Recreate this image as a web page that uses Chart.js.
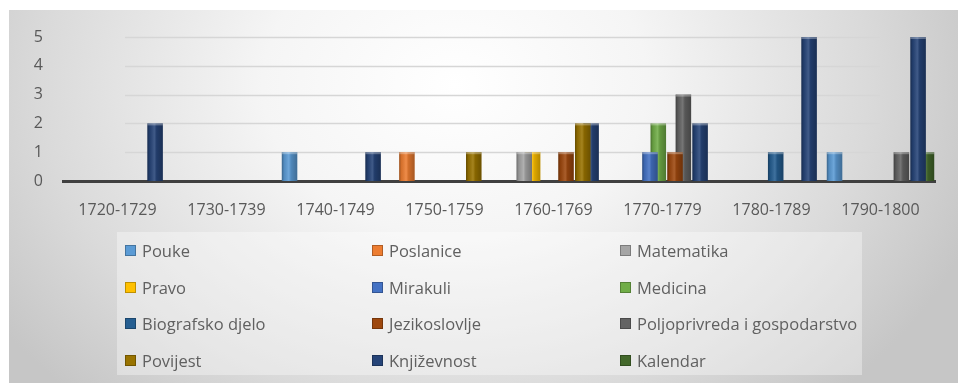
<!DOCTYPE html>
<html>
<head>
<meta charset="utf-8">
<script src="https://cdn.jsdelivr.net/npm/chart.js@4/dist/chart.umd.min.js"></script>
<style>
  body { margin: 0; background: #fff; width: 958px; height: 383px; overflow: hidden; position: relative; font-family: "Open Sans", sans-serif; }
  #bg { position: absolute; left: 9px; top: 10px; width: 949px; height: 373px;
        background: radial-gradient(ellipse 58% 115% at 47% 20%, #ffffff 0%, #f5f5f5 35%, #dadada 75%, #c6c6c6 100%); }
  #chart { position: absolute; left: 0; top: 0; }
  #legend { position: absolute; left: 117px; top: 232px; width: 745px; height: 143px; box-sizing: border-box;
            padding-left: 8px; background: rgba(255,255,255,0.35);
            display: grid; grid-template-columns: 247px 248px 1fr; grid-template-rows: repeat(4, 36.7px); }
  #legend div { display: flex; align-items: center; color: #606060; font-size: 16.5px; white-space: nowrap; }
  #legend span.box { display: inline-block; width: 9px; height: 9px; margin-right: 6px; border: 1px solid rgba(0,0,0,0.25); }
</style>
</head>
<body>
<div id="bg"></div>
<canvas id="chart" width="958" height="383"></canvas>
<div id="legend"></div>
<script>
// categories (decades)
let categories = ['1720-1729', '1730-1739', '1740-1749', '1750-1759', '1760-1769', '1770-1779', '1780-1789', '1790-1800'];

// one array per genre, number of works per decade
let pouke         = [0, 0, 1, 0, 0, 0, 0, 1];
let poslanice     = [0, 0, 0, 1, 0, 0, 0, 0];
let matematika    = [0, 0, 0, 0, 1, 0, 0, 0];
let pravo         = [0, 0, 0, 0, 1, 0, 0, 0];
let mirakuli      = [0, 0, 0, 0, 0, 1, 0, 0];
let medicina      = [0, 0, 0, 0, 0, 2, 0, 0];
let biografsko    = [0, 0, 0, 0, 0, 0, 1, 0];
let jezikoslovlje = [0, 0, 0, 0, 1, 1, 0, 0];
let poljoprivreda = [0, 0, 0, 0, 0, 3, 0, 1];
let povijest      = [0, 0, 0, 1, 2, 0, 0, 0];
let knjizevnost   = [2, 0, 1, 0, 2, 2, 5, 5];
let kalendar      = [0, 0, 0, 0, 0, 0, 0, 1];

let seriesNames = ['Pouke', 'Poslanice', 'Matematika', 'Pravo', 'Mirakuli', 'Medicina',
                   'Biografsko djelo', 'Jezikoslovlje', 'Poljoprivreda i gospodarstvo', 'Povijest', 'Književnost', 'Kalendar'];
let seriesValues = [pouke, poslanice, matematika, pravo, mirakuli, medicina,
                    biografsko, jezikoslovlje, poljoprivreda, povijest, knjizevnost, kalendar];
let seriesColors = ['#5B9BD5', '#ED7D31', '#A5A5A5', '#FFC000', '#4472C4', '#70AD47',
                    '#255E91', '#9E480E', '#636363', '#997300', '#264478', '#43682B'];

let yTicks = [0, 1, 2, 3, 4, 5];

let textColor = '#595959';

// back-wall gridlines, a bit inset like the 3D original
const wallGrid = {
    id: 'wallGrid',
    beforeDatasetsDraw(chart) {
        const ctx = chart.ctx;
        const area = chart.chartArea;
        const y = chart.scales.y;
        ctx.save();
        ctx.strokeStyle = '#d6d6d6';
        ctx.lineWidth = 1.5;
        yTicks.forEach(function(v) {
            if (v === 0) return;
            let py = Math.round(y.getPixelForValue(v)) + 0.5;
            ctx.beginPath();
            ctx.moveTo(area.left + 62, py);
            ctx.lineTo(area.right - 55, py);
            ctx.stroke();
        });
        ctx.restore();
    }
};

// shading over each bar to fake the 3D columns
const barShade = {
    id: 'barShade',
    afterDatasetDraw(chart, args) {
        const ctx = chart.ctx;
        ctx.save();
        args.meta.data.forEach(function(bar) {
            const p = bar.getProps(['x', 'y', 'base', 'width'], true);
            const h = p.base - p.y;
            if (h < 1) return;
            const l = p.x - p.width / 2;
            const g = ctx.createLinearGradient(l, 0, l + p.width, 0);
            g.addColorStop(0, 'rgba(0,0,0,0.35)');
            g.addColorStop(0.15, 'rgba(0,0,0,0.1)');
            g.addColorStop(0.45, 'rgba(255,255,255,0.12)');
            g.addColorStop(0.6, 'rgba(0,0,0,0.12)');
            g.addColorStop(1, 'rgba(0,0,0,0.3)');
            ctx.fillStyle = g;
            ctx.fillRect(l, p.y, p.width, h);
            ctx.fillStyle = 'rgba(255,255,255,0.3)';
            ctx.fillRect(l, p.y, p.width, 2);
        });
        ctx.restore();
    }
};

let datasets = seriesNames.map(function(name, i) {
    return {
        label: name,
        data: seriesValues[i],
        backgroundColor: seriesColors[i],
        borderWidth: 0,
        categoryPercentage: 0.92,
        barPercentage: 1.85
    };
});

let ctx = document.getElementById('chart').getContext('2d');
let myChart = new Chart(ctx, {
    type: 'bar',
    data: { labels: categories, datasets: datasets },
    plugins: [wallGrid, barShade],
    options: {
        responsive: false,
        animation: false,
        devicePixelRatio: 1,
        layout: { padding: { left: 25, right: 23, top: 37, bottom: 0 } },
        plugins: {
            legend: { display: false },
            tooltip: { enabled: false }
        },
        scales: {
            x: {
                grid: { display: false, drawTicks: false },
                border: { display: true, color: '#404040', width: 3 },
                ticks: { color: textColor, font: { family: 'Open Sans', size: 16 }, padding: 20, maxRotation: 0 },
                afterFit: function(scale) { scale.height = 202; }
            },
            y: {
                min: 0,
                max: 5,
                grid: { display: false, drawTicks: false },
                border: { display: false },
                ticks: { stepSize: 1, color: textColor, font: { family: 'Open Sans', size: 16 }, padding: 20 },
                afterFit: function(scale) { scale.width = 38; }
            }
        }
    }
});

// html legend in three columns, row by row
let legend = document.getElementById('legend');
myChart.data.datasets.forEach(function(ds) {
    let item = document.createElement('div');
    let box = document.createElement('span');
    box.className = 'box';
    box.style.background = ds.backgroundColor;
    item.appendChild(box);
    item.appendChild(document.createTextNode(ds.label));
    legend.appendChild(item);
});
</script>
</body>
</html>
